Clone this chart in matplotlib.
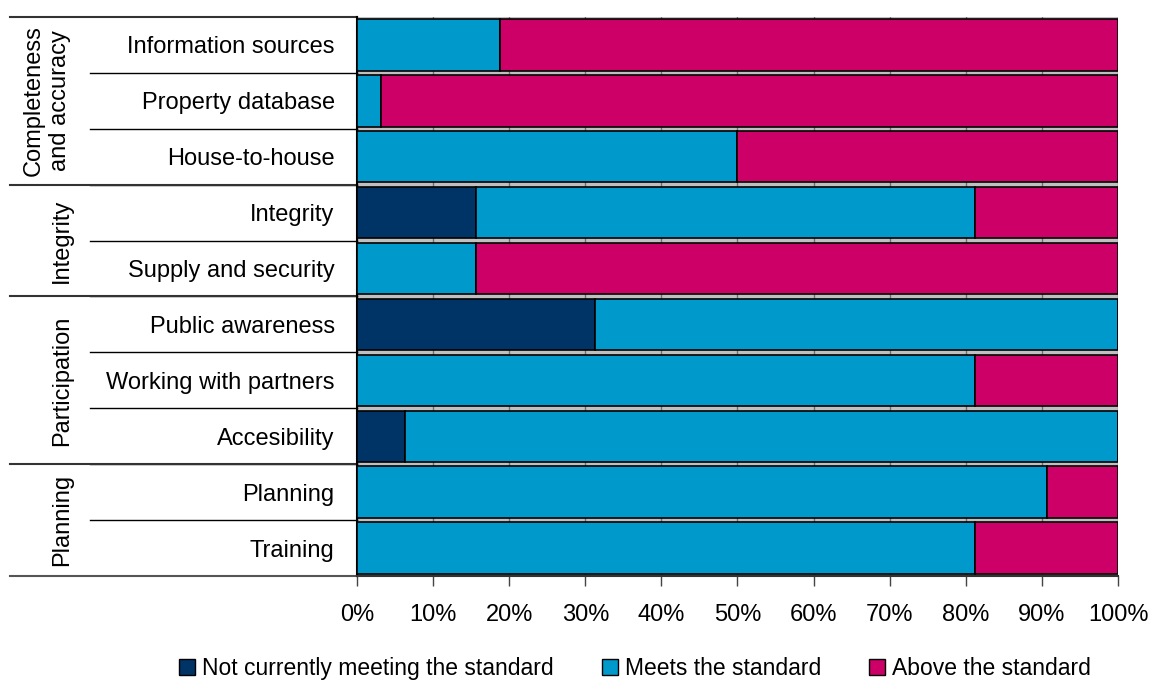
import matplotlib
matplotlib.use('Agg')
import matplotlib.pyplot as plt
import matplotlib.transforms as mtransforms
from matplotlib.patches import Patch
import numpy as np

plt.rcParams['font.family'] = ['Liberation Sans', 'DejaVu Sans']

categories = ['Information sources', 'Property database', 'House-to-house',
              'Integrity', 'Supply and security',
              'Public awareness', 'Working with partners', 'Accesibility',
              'Planning', 'Training']
groups = ['Completeness\nand accuracy', 'Integrity', 'Participation', 'Planning']
group_sizes = [3, 2, 3, 2]

not_meeting = [0, 0, 0, 15.625, 0, 31.25, 0, 6.25, 0, 0]
meets = [18.75, 3.125, 50, 65.625, 15.625, 68.75, 81.25, 93.75, 90.625, 81.25]
above = [81.25, 96.875, 50, 18.75, 84.375, 0, 18.75, 0, 9.375, 18.75]

series_names = ['Not currently meeting the standard', 'Meets the standard', 'Above the standard']
colors = ['#003366', '#0099CC', '#CC0066']
FS = 17

fig = plt.figure(figsize=(11.5, 6.8), dpi=100)
ax = fig.add_axes([0.3104, 0.153, 0.6618, 0.822])
ax.set_facecolor('#C0C0C0')

n = len(categories)
y = np.arange(n)
left = np.zeros(n)
for vals, col in zip([not_meeting, meets, above], colors):
    vals = np.array(vals)
    ax.barh(y, vals, left=left, height=0.92, color=col,
            edgecolor='black', linewidth=1.2, zorder=3)
    left += vals

ax.set_xlim(0, 100)
ax.set_ylim(n - 0.5, -0.5)
ax.set_xticks(np.arange(0, 101, 10))
ax.set_xticklabels([f'{v}%' for v in range(0, 101, 10)], fontsize=FS)
ax.tick_params(axis='x', length=7, width=1, pad=13, color='#444444')
ax.xaxis.grid(True, color='#707070', linewidth=1, zorder=0)
ax.set_axisbelow(True)

ax.set_yticks(y)
ax.set_yticklabels(categories, fontsize=FS)
ax.tick_params(axis='y', length=0, pad=16)

for s in ['top', 'right']:
    ax.spines[s].set_visible(False)
ax.spines['left'].set_linewidth(1.5)
ax.spines['bottom'].set_color('#333333')
ax.spines['bottom'].set_linewidth(1.5)

# separators and group labels on the left
trans = mtransforms.blended_transform_factory(ax.transAxes, ax.transData)
x_group = (10 - 357) / 761
x_cat = (90 - 357) / 761
for i in range(1, n):
    ax.plot([x_cat, 0], [i - 0.5, i - 0.5], color='black', lw=1,
            transform=trans, clip_on=False)
start = 0
for g, size in zip(groups, group_sizes):
    ax.plot([x_group, 0], [start - 0.5, start - 0.5], color='#333333', lw=1.5,
            transform=trans, clip_on=False)
    xc = (47 - 357) / 761 if '\n' in g else (62 - 357) / 761
    ax.text(xc, start + (size - 1) / 2, g, rotation=90, ha='center', va='center',
            fontsize=FS, transform=trans, linespacing=1.25)
    start += size
ax.plot([x_group, 0], [n - 0.5, n - 0.5], color='#555555', lw=1.5,
        transform=trans, clip_on=False)

handles = [Patch(facecolor=c, edgecolor='black', linewidth=1) for c in colors]
fig.legend(handles, series_names, loc='lower center', bbox_to_anchor=(0.552, -0.03),
           ncol=3, frameon=False, fontsize=16.5, handlelength=0.7, handleheight=0.7,
           handletextpad=0.3, columnspacing=2.1)

fig.savefig('out.png', dpi=100)
